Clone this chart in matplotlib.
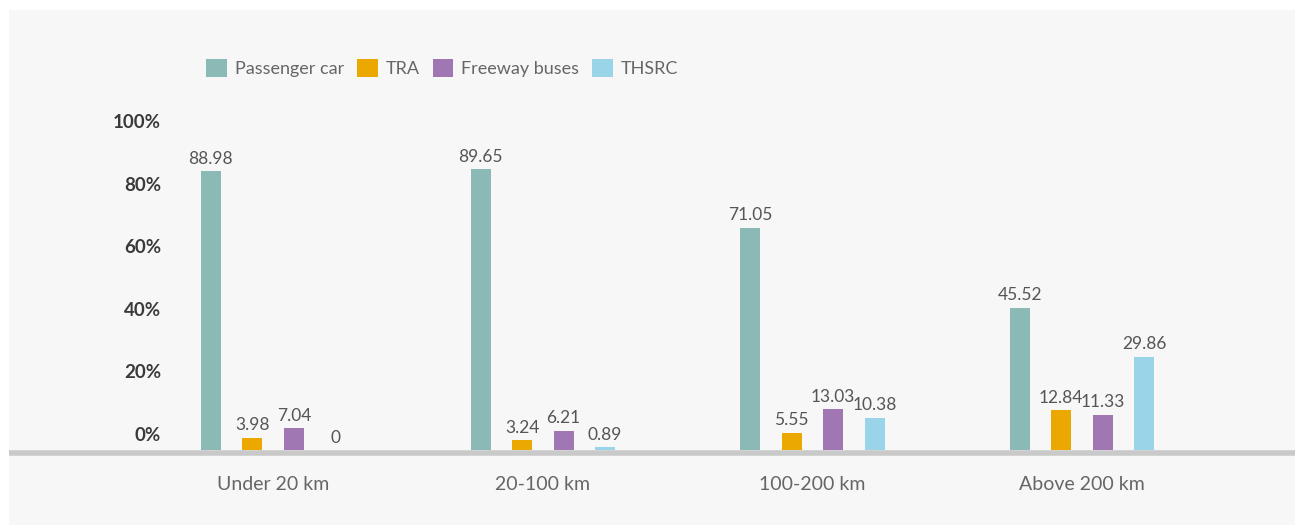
import numpy as np
import matplotlib.pyplot as plt
import matplotlib.transforms as mtransforms
from matplotlib.patches import Rectangle

plt.rcParams['font.family'] = ['Lato', 'DejaVu Sans']

categories = ['Under 20 km', '20-100 km', '100-200 km', 'Above 200 km']
modes = ['Passenger car', 'TRA', 'Freeway buses', 'THSRC']
shares = {
    'Passenger car': [88.98, 89.65, 71.05, 45.52],
    'TRA': [3.98, 3.24, 5.55, 12.84],
    'Freeway buses': [7.04, 6.21, 13.03, 11.33],
    'THSRC': [0, 0.89, 10.38, 29.86],
}
value_labels = {
    'Passenger car': ['88.98', '89.65', '71.05', '45.52'],
    'TRA': ['3.98', '3.24', '5.55', '12.84'],
    'Freeway buses': ['7.04', '6.21', '13.03', '11.33'],
    'THSRC': ['0', '0.89', '10.38', '29.86'],
}
yticks = [0, 20, 40, 60, 80, 100]
ytick_labels = ['0%', '20%', '40%', '60%', '80%', '100%']

colors = ['#8bbab6', '#eaa800', '#a077b2', '#9ad4e9']
bg = '#f7f7f7'
text_grey = '#666666'


def plot() -> None:
  fig = plt.figure(figsize=(13, 5.25), dpi=100)
  fig.patch.set_facecolor('white')
  # light grey panel behind the chart
  fig.patches.append(Rectangle((9 / 1300, 0), 1286 / 1300, 515 / 525,
                               transform=fig.transFigure, facecolor=bg,
                               edgecolor='none', zorder=-10))

  ax = fig.add_axes([9 / 1300, 75 / 525, 1286 / 1300, 313 / 525])
  ax.set_facecolor('none')

  x = np.arange(len(categories))
  step = 0.154
  width = 0.074
  for i, (mode, color) in enumerate(zip(modes, colors)):
    pos = x + (i - 1.5) * step
    ax.bar(pos, shares[mode], width=width, color=color, label=mode, zorder=2)
    for xp, v, lab in zip(pos, shares[mode], value_labels[mode]):
      ax.annotate(lab, (xp, v), xytext=(0, 3), textcoords='offset points',
                  ha='center', va='bottom', fontsize=12.5, color='#555555')

  ax.set_xlim(-0.98, 3.79)
  ax.set_ylim(0, 100)

  for s in ['top', 'right', 'left']:
    ax.spines[s].set_visible(False)
  ax.spines['bottom'].set_color('#c8c9c8')
  ax.spines['bottom'].set_linewidth(4)
  ax.spines['bottom'].set_capstyle('butt')
  ax.spines['bottom'].set_position(('outward', 2))

  ax.set_xticks(x)
  ax.set_xticklabels(categories, fontsize=14, color=text_grey)
  ax.tick_params(axis='x', length=0, pad=17)

  # percentage labels sit inside the axes, a little above their levels
  ax.set_yticks(yticks)
  ax.set_yticklabels(ytick_labels, fontsize=13.5, fontweight='bold', color='#3a3a3a')
  ax.tick_params(axis='y', length=0, pad=-152 * 0.72)
  shift = mtransforms.ScaledTranslation(0, 16 / 100, fig.dpi_scale_trans)
  for lab in ax.get_yticklabels():
    lab.set_transform(lab.get_transform() + shift)

  leg = ax.legend(loc='upper left', bbox_to_anchor=(190 / 1286, 1 + 85 / 313),
                  ncol=4, frameon=False, fontsize=13, handlelength=1.15,
                  handleheight=1.15, handletextpad=0.45, columnspacing=0.7,
                  borderaxespad=0)
  for t in leg.get_texts():
    t.set_color(text_grey)

  fig.savefig('out.png', dpi=100, facecolor=fig.get_facecolor())


if __name__ == "__main__":
  plot()
